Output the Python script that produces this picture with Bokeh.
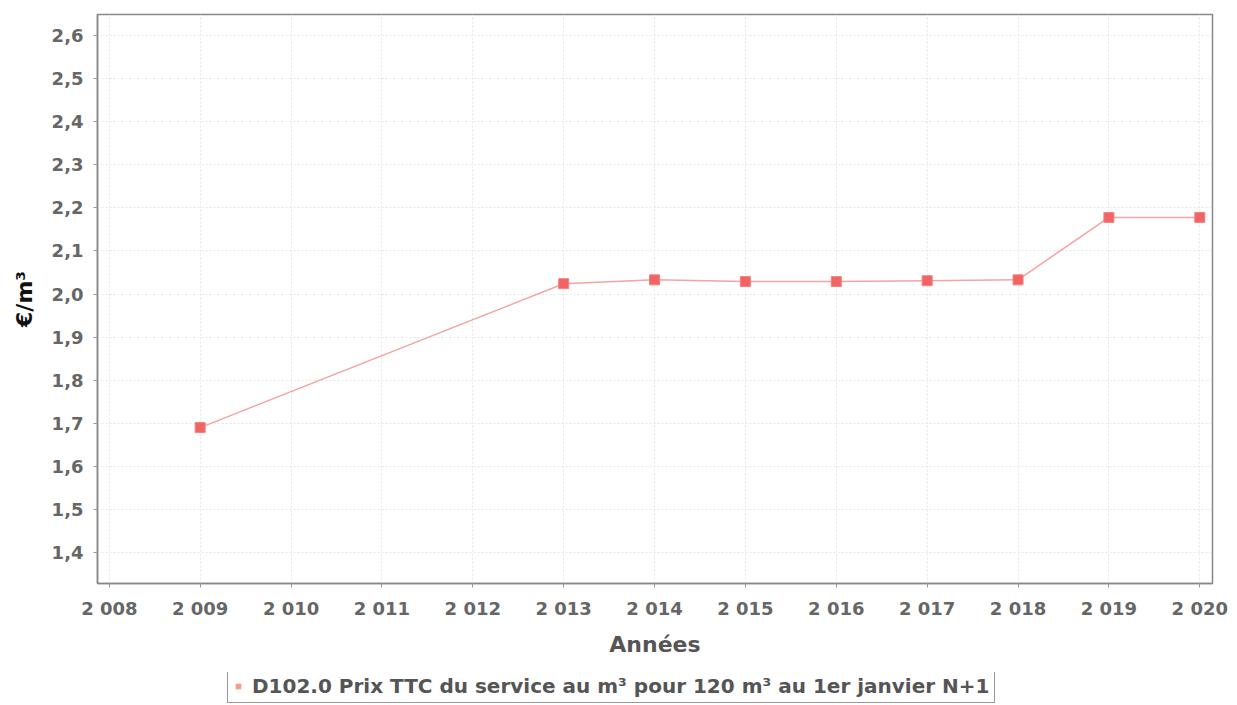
from bokeh.plotting import figure
from bokeh.layouts import column
from bokeh.models import FixedTicker, Legend, LegendItem, Range1d
from bokeh.embed import file_html
from bokeh.resources import INLINE

years = [2009, 2013, 2014, 2015, 2016, 2017, 2018, 2019, 2020]
prices = [1.69, 2.024, 2.033, 2.029, 2.029, 2.031, 2.033, 2.178, 2.178]
x_ticks = list(range(2008, 2021))
x_tick_labels = ["2 008", "2 009", "2 010", "2 011", "2 012", "2 013", "2 014",
                 "2 015", "2 016", "2 017", "2 018", "2 019", "2 020"]
y_ticks = [1.4, 1.5, 1.6, 1.7, 1.8, 1.9, 2.0, 2.1, 2.2, 2.3, 2.4, 2.5, 2.6]
y_tick_labels = ["1,4", "1,5", "1,6", "1,7", "1,8", "1,9", "2,0", "2,1", "2,2",
                 "2,3", "2,4", "2,5", "2,6"]
series_name = "D102.0 Prix TTC du service au m³ pour 120 m³ au 1er janvier N+1"

LINE_COLOR = "#f6a3a3"
MARK_FILL = "#f26464"
MARK_LINE = "#f08080"

p = figure(width=1235, height=672, output_backend="svg", toolbar_location=None,
           x_range=Range1d(2007.87, 2020.14), y_range=Range1d(1.328, 2.649),
           min_border_left=97, min_border_top=14, min_border_right=23,
           min_border_bottom=89)
p.background_fill_color = "white"
p.outline_line_color = "#888888"
p.outline_line_width = 1.5

p.line(years, prices, line_color=LINE_COLOR, line_width=1.5)
p.scatter(years, prices, marker="square", size=10, fill_color=MARK_FILL,
          line_color=MARK_LINE)

p.xaxis.ticker = FixedTicker(ticks=x_ticks)
p.yaxis.ticker = FixedTicker(ticks=y_ticks)
p.xaxis.major_label_overrides = {t: l for t, l in zip(x_ticks, x_tick_labels)}
p.yaxis.major_label_overrides = {t: l for t, l in zip(y_ticks, y_tick_labels)}

for ax in (p.xaxis, p.yaxis):
    ax.major_label_text_font = "DejaVu Sans"
    ax.major_label_text_font_size = "18px"
    ax.major_label_text_color = "#666666"
    ax.major_label_text_font_style = "bold"
    ax.axis_line_color = "#888888"
    ax.axis_line_width = 1.5
    ax.major_tick_line_color = "#999999"
    ax.major_tick_out = 4
    ax.major_tick_in = 0
    ax.minor_tick_line_color = None
    ax.axis_label_text_font = "DejaVu Sans"
    ax.axis_label_text_font_style = "bold"
    ax.axis_label_text_font_size = "22px"

p.xaxis.axis_label = "Années"
p.yaxis.axis_label = "€/m³"
p.xaxis.axis_label_text_color = "#555555"
p.yaxis.axis_label_text_color = "#111111"
p.xaxis.major_label_standoff = 10
p.yaxis.major_label_standoff = 10
p.xaxis.axis_label_standoff = 10
p.yaxis.axis_label_standoff = 12

p.grid.grid_line_color = "#e6e6e6"
p.grid.grid_line_dash = "2 2"

# legend strip below the chart
leg = figure(width=1235, height=31, output_backend="svg", toolbar_location=None,
             x_range=Range1d(0, 1), y_range=Range1d(0, 1),
             x_axis_location=None, y_axis_location=None,
             min_border_left=0, min_border_right=0, min_border_top=0,
             min_border_bottom=0)
leg.outline_line_color = None
leg.grid.visible = False
# same series, lying outside this strip's ranges; only its legend entry shows
leg_pts = leg.scatter(years, prices, marker="square", size=9,
                      fill_color="#f4a080", line_color="#f4a080")
legend = Legend(items=[LegendItem(label=series_name, renderers=[leg_pts])],
                orientation="horizontal", location=(130, 0),
                border_line_color="#333333", border_line_width=1.5,
                label_text_font="DejaVu Sans", label_text_font_size="20px",
                label_text_font_style="bold",
                label_text_color="#555555", padding=4, margin=0,
                glyph_width=12, glyph_height=12, spacing=4, label_standoff=8,
                background_fill_alpha=1.0)
leg.add_layout(legend, "center")

layout = column(p, leg, spacing=0)
open("out.html", "w").write(file_html(layout, INLINE))
